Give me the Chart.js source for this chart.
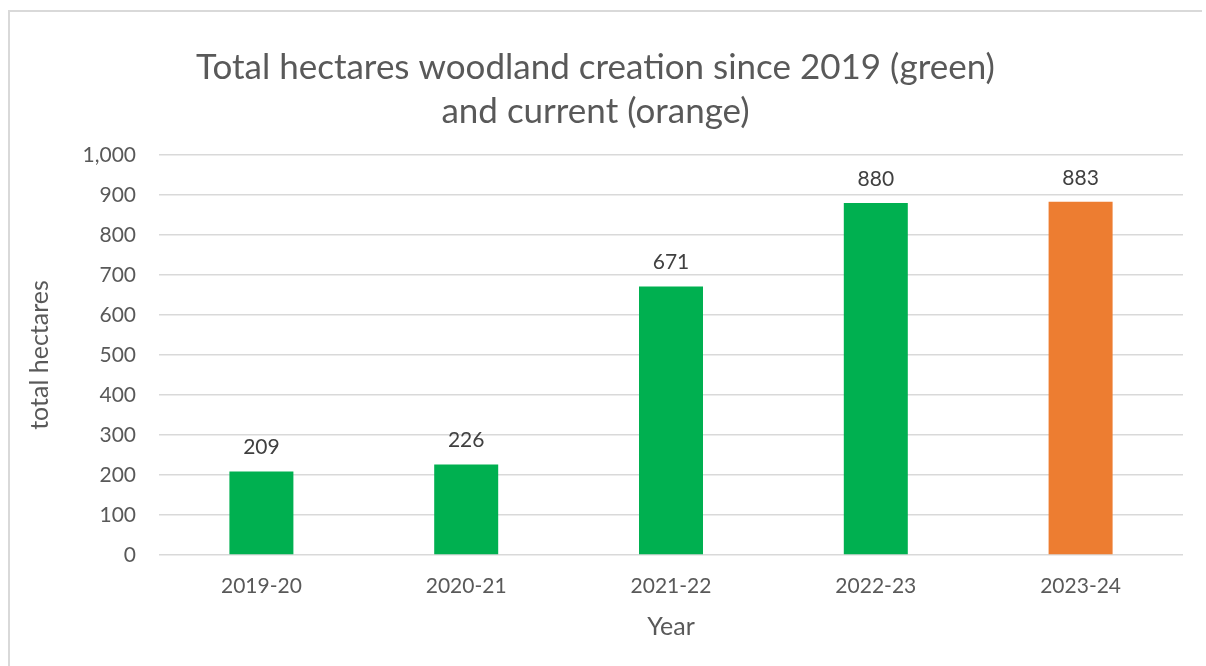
<!DOCTYPE html>
<html>
<head>
    <title>Woodland creation</title>
    <script src="https://cdn.jsdelivr.net/npm/chart.js"></script>
    <style>
        body { margin: 0; background: #fff; }
        #wrap { position: relative; width: 1206px; height: 666px; overflow: hidden; }
        #frame { position: absolute; left: 8px; top: 10px; width: 1192px; height: 700px;
                 border-left: 2px solid #d9d9d9; border-top: 2px solid #d9d9d9; }
        canvas { position: absolute; left: 0; top: 0; }
    </style>
</head>
<body>
<div id="wrap">
    <div id="frame"></div>
    <canvas id="woodChart" width="1206" height="666"></canvas>
</div>

<script>
const years = ['2019-20', '2020-21', '2021-22', '2022-23', '2023-24'];
const hectares = [209, 226, 671, 880, 883];
const barColours = ['#00b050', '#00b050', '#00b050', '#00b050', '#ed7d31'];
const titleLines = ['Total hectares woodland creation since 2019 (green)', 'and current (orange)'];

const grey = '#595959';
const fontName = 'Lato, "Open Sans", sans-serif';

// write the value above each bar
const barLabels = {
    id: 'barLabels',
    afterDatasetsDraw(chart) {
        const ctx = chart.ctx;
        const meta = chart.getDatasetMeta(0);
        ctx.save();
        ctx.font = '21px ' + fontName;
        ctx.fillStyle = '#404040';
        ctx.textAlign = 'center';
        ctx.textBaseline = 'middle';
        meta.data.forEach((bar, i) => {
            ctx.fillText(hectares[i], bar.x, bar.y - 24);
        });
        ctx.restore();
    }
};

const ctx = document.getElementById('woodChart').getContext('2d');
new Chart(ctx, {
    type: 'bar',
    data: {
        labels: years,
        datasets: [{
            data: hectares,
            backgroundColor: barColours,
            categoryPercentage: 1,
            barPercentage: 0.3125
        }]
    },
    options: {
        responsive: false,
        animation: false,
        layout: { padding: { left: 8, right: 23, top: 10, bottom: 0 } },
        plugins: {
            legend: { display: false },
            tooltip: { enabled: false },
            title: {
                display: true,
                text: titleLines,
                color: grey,
                font: { family: fontName, size: 35, weight: 'normal', lineHeight: 1.257 },
                padding: { top: 36, bottom: 21 }
            }
        },
        scales: {
            x: {
                grid: { display: false, drawTicks: false },
                border: { display: false },
                ticks: { color: grey, font: { family: fontName, size: 21 }, padding: 19 },
                title: {
                    display: true,
                    text: 'Year',
                    color: grey,
                    font: { family: fontName, size: 25 },
                    padding: { top: 0, bottom: 24 }
                },
                afterFit(scale) { scale.height = 111; }
            },
            y: {
                min: 0,
                max: 1000,
                grid: { color: '#d9d9d9', lineWidth: 1.5, drawTicks: false },
                border: { display: false },
                ticks: {
                    stepSize: 100,
                    color: grey,
                    font: { family: fontName, size: 21 },
                    padding: 23,
                    callback: v => v.toLocaleString('en-US')
                },
                title: {
                    display: true,
                    text: 'total hectares',
                    color: grey,
                    font: { family: fontName, size: 25 },
                    padding: { top: 17, bottom: 0 }
                },
                afterFit(scale) { scale.width = 151; }
            }
        }
    },
    plugins: [barLabels]
});
</script>
</body>
</html>
